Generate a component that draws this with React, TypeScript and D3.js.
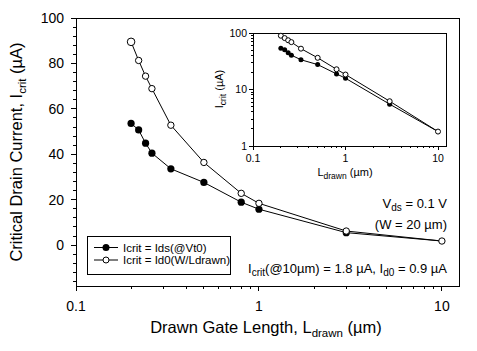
import React from 'react'
import * as d3 from 'd3'

// drawn gate length (µm)
const lengths = [0.2, 0.22, 0.24, 0.26, 0.33, 0.5, 0.8, 1, 3, 10]
// Icrit = Ids(@Vt0)
const idsVt0 = [53.6, 50.7, 44.9, 40.5, 33.6, 27.6, 18.9, 15.8, 5.5, 1.8]
// Icrit = Id0(W/Ldrawn)
const id0W = [89.5, 81.3, 74.4, 68.9, 52.8, 36.4, 22.8, 18.4, 6.2, 1.8]

const mainYTicks = [0, 20, 40, 60, 80, 100]
const mainXTicks = [0.1, 1, 10]
const insetYTicks = [1, 10, 100]
const insetXTicks = [0.1, 1, 10]

const FONT = "'Liberation Sans', Arial, sans-serif"

function minorLog(lo: number, hi: number) {
  const out: number[] = []
  for (let d = lo; d < hi; d *= 10) {
    for (let k = 2; k <= 9; k++) out.push(d * k)
  }
  return out
}

export default function App() {
  const W = 477
  const H = 351

  // main plot
  const x = d3.scaleLog().domain([0.1, 12.4]).range([76, 459])
  const y = d3.scaleLinear().domain([-18, 100]).range([286, 18])
  const [x0, x1] = x.range()
  const [y0, y1] = y.range()

  // inset
  const ix = d3.scaleLog().domain([0.1, 12.2]).range([253, 446])
  const iy = d3.scaleLog().domain([1, 100]).range([146, 33])
  const [ix0, ix1] = ix.range()
  const [iy0, iy1] = iy.range()

  const line = d3.line<number>().x((_, i) => x(lengths[i])).y(d => y(d))
  const iline = d3.line<number>().x((_, i) => ix(lengths[i])).y(d => iy(d))

  const yMinor = d3.range(-16, 100, 4).filter(v => v % 20 !== 0)
  const xMinor = minorLog(0.1, 10).filter(v => v <= 12.4)

  const iyMinor = minorLog(1, 100)
  const ixMinor = minorLog(0.1, 10).filter(v => v <= 12.2)

  return (
    <svg width={W} height={H} style={{ position: 'absolute', left: 0, top: 0, background: '#fff' }} fontFamily={FONT}>
      <rect x={0} y={0} width={W} height={H} fill="#fff" />

      {/* main frame */}
      <rect x={x0} y={y1} width={x1 - x0} height={y0 - y1} fill="none" stroke="#000" strokeWidth={1} shapeRendering="crispEdges" />

      {/* main y ticks */}
      {mainYTicks.map(v => (
        <g key={'my' + v}>
          <line x1={x0 - 5} x2={x0} y1={y(v)} y2={y(v)} stroke="#000" shapeRendering="crispEdges" />
          <text x={x0 - 12} y={y(v)} dy="0.36em" textAnchor="end" fontSize={14}>{v}</text>
        </g>
      ))}
      {yMinor.map(v => (
        <line key={'mym' + v} x1={x0 - 3} x2={x0} y1={y(v)} y2={y(v)} stroke="#000" shapeRendering="crispEdges" />
      ))}

      {/* main x ticks */}
      {mainXTicks.map(v => (
        <g key={'mx' + v}>
          <line x1={x(v)} x2={x(v)} y1={y0} y2={y0 + 5} stroke="#000" shapeRendering="crispEdges" />
          <text x={x(v)} y={y0 + 25} textAnchor="middle" fontSize={14}>{v}</text>
        </g>
      ))}
      {xMinor.map(v => (
        <line key={'mxm' + v} x1={x(v)} x2={x(v)} y1={y0} y2={y0 + 3} stroke="#000" shapeRendering="crispEdges" />
      ))}

      {/* main axis titles */}
      <text x={266} y={333} textAnchor="middle" fontSize={16.5}>
        Drawn Gate Length, L<tspan fontSize={11.5} dy={4}>drawn</tspan><tspan dy={-4}> (µm)</tspan>
      </text>
      <text transform="translate(22,152) rotate(-90)" textAnchor="middle" fontSize={16.5}>
        Critical Drain Current, I<tspan fontSize={11.5} dy={4}>crit</tspan><tspan dy={-4}> (µA)</tspan>
      </text>

      {/* main series */}
      <path d={line(idsVt0) || ''} fill="none" stroke="#000" strokeWidth={1} />
      <path d={line(id0W) || ''} fill="none" stroke="#000" strokeWidth={1} />
      {idsVt0.slice(0, 9).map((v, i) => (
        <circle key={'f' + i} cx={x(lengths[i])} cy={y(v)} r={3.6} fill="#000" />
      ))}
      {id0W.map((v, i) => (
        <circle key={'o' + i} cx={x(lengths[i])} cy={y(v)} r={i === 0 ? 3.8 : 3.2} fill="#fff" stroke="#000" strokeWidth={1} />
      ))}

      {/* legend */}
      <rect x={87} y={236} width={143} height={38} fill="#fff" stroke="#000" strokeWidth={1} shapeRendering="crispEdges" />
      <line x1={94} x2={118} y1={247.5} y2={247.5} stroke="#000" />
      <circle cx={106} cy={247.5} r={3.5} fill="#000" />
      <text x={123} y={251.5} fontSize={11.5}>Icrit = Ids(@Vt0)</text>
      <line x1={94} x2={118} y1={260} y2={260} stroke="#000" />
      <circle cx={106} cy={260} r={3} fill="#fff" stroke="#000" />
      <text x={123} y={264} fontSize={11.5}>Icrit = Id0(W/Ldrawn)</text>

      {/* annotations */}
      <text x={447} y={208} textAnchor="end" fontSize={13}>
        V<tspan fontSize={10} dy={3}>ds</tspan><tspan dy={-3}> = 0.1 V</tspan>
      </text>
      <text x={447} y={229} textAnchor="end" fontSize={13}>(W = 20 µm)</text>
      <text x={447} y={273} textAnchor="end" fontSize={13}>
        I<tspan fontSize={10} dy={3}>crit</tspan><tspan dy={-3}>(@10µm) = 1.8 µA, I</tspan><tspan fontSize={10} dy={3}>d0</tspan><tspan dy={-3}> = 0.9 µA</tspan>
      </text>

      {/* inset */}
      <rect x={ix0} y={iy1} width={ix1 - ix0} height={iy0 - iy1} fill="#fff" stroke="#000" strokeWidth={1} shapeRendering="crispEdges" />
      {insetYTicks.map(v => (
        <g key={'iy' + v}>
          <line x1={ix0 - 4} x2={ix0} y1={iy(v)} y2={iy(v)} stroke="#000" shapeRendering="crispEdges" />
          <text x={ix0 - 6} y={iy(v)} dy="0.36em" textAnchor="end" fontSize={10.5}>{v}</text>
        </g>
      ))}
      {iyMinor.map(v => (
        <line key={'iym' + v} x1={ix0 - 2} x2={ix0} y1={iy(v)} y2={iy(v)} stroke="#000" shapeRendering="crispEdges" />
      ))}
      {insetXTicks.map(v => (
        <g key={'ix' + v}>
          <line x1={ix(v)} x2={ix(v)} y1={iy0} y2={iy0 + 4} stroke="#000" shapeRendering="crispEdges" />
          <text x={ix(v)} y={iy0 + 16} textAnchor="middle" fontSize={10.5}>{v}</text>
        </g>
      ))}
      {ixMinor.map(v => (
        <line key={'ixm' + v} x1={ix(v)} x2={ix(v)} y1={iy0} y2={iy0 + 2} stroke="#000" shapeRendering="crispEdges" />
      ))}
      <text x={345} y={176} textAnchor="middle" fontSize={11}>
        L<tspan fontSize={8.5} dy={3}>drawn</tspan><tspan dy={-3}> (µm)</tspan>
      </text>
      <text transform="translate(223,89) rotate(-90)" textAnchor="middle" fontSize={11}>
        I<tspan fontSize={8.5} dy={3}>crit</tspan><tspan dy={-3}> (µA)</tspan>
      </text>
      <path d={iline(idsVt0) || ''} fill="none" stroke="#000" strokeWidth={1} />
      <path d={iline(id0W) || ''} fill="none" stroke="#000" strokeWidth={1} />
      {idsVt0.slice(0, 9).map((v, i) => (
        <circle key={'if' + i} cx={ix(lengths[i])} cy={iy(v)} r={2.5} fill="#000" />
      ))}
      {id0W.map((v, i) => (
        <circle key={'io' + i} cx={ix(lengths[i])} cy={iy(v)} r={2.5} fill="#fff" stroke="#000" strokeWidth={1} />
      ))}
    </svg>
  )
}
